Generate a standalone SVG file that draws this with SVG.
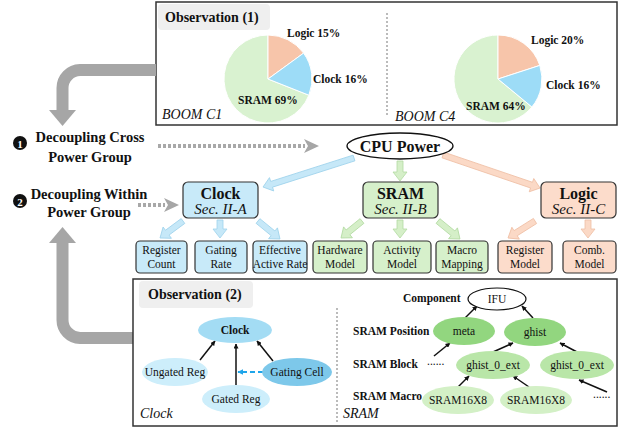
<svg xmlns="http://www.w3.org/2000/svg" width="624" height="429" viewBox="0 0 624 429">
<defs>
<style>
text{font-family:"Liberation Serif","Times New Roman",serif;fill:#111}
.b{font-weight:bold}
.i{font-style:italic}
.frame{fill:#fff;stroke:#333;stroke-width:1.5}
.lab{fill:#efefef}
.sep{stroke:#bbb;stroke-width:2;stroke-dasharray:2 2;fill:none}
.gray{stroke:#a6a6a6;stroke-width:12;fill:none}
.gfill{fill:#a6a6a6}
.dot{stroke:#a8a8a8;stroke-width:4;stroke-dasharray:3 2;fill:none}
.box{stroke:#333;stroke-width:1.2}
.blue{fill:#c8eaf9}
.green{fill:#d6f0cb}
.peach{fill:#fcdccb}
.ab{fill:#c6e8f8;stroke:#9fd3ec;stroke-width:0.8}
.ag{fill:#d5efc8;stroke:#b2daa2;stroke-width:0.8}
.ap{fill:#fbd9c6;stroke:#efbfa5;stroke-width:0.8}
.blk{stroke:#111;stroke-width:1.5;fill:none;marker-end:url(#ah)}
</style>
<marker id="ah" viewBox="0 0 10 10" refX="9" refY="5" markerWidth="5" markerHeight="5" orient="auto" markerUnits="userSpaceOnUse"><path d="M0,0 L10,5 L0,10 Z" fill="#111"/></marker>
<marker id="ahb" viewBox="0 0 10 10" refX="9" refY="5" markerWidth="6" markerHeight="6" orient="auto" markerUnits="userSpaceOnUse"><path d="M0,0 L10,5 L0,10 Z" fill="#1ea5ea"/></marker>
</defs>

<!-- Observation (1) -->
<g id="obs1">
<rect class="frame" x="156" y="2" width="461" height="123"/>
<rect class="lab" x="158" y="4" width="112" height="26" rx="4"/>
<text class="b" x="165" y="22" font-size="14">Observation (1)</text>
<line class="sep" x1="387" y1="13" x2="387" y2="116"/>
<g id="pie1" stroke="#fff" stroke-width="1">
<path d="M268,79 L308.9,95.2 A44,44 0 1 1 268,35 Z" fill="#d9f2d0"/>
<path d="M268,79 L268,35 A44,44 0 0 1 303.6,53.1 Z" fill="#f7c5aa"/>
<path d="M268,79 L303.6,53.1 A44,44 0 0 1 308.9,95.2 Z" fill="#9ddcf7"/>
</g>
<text class="b" x="287" y="37" font-size="11.5">Logic 15%</text>
<text class="b" x="313" y="83" font-size="11.5">Clock 16%</text>
<text class="b" x="238" y="104" font-size="11.5">SRAM 69%</text>
<text class="i" x="162" y="119" font-size="14">BOOM C1</text>
<g id="pie2" stroke="#fff" stroke-width="1">
<path d="M498,79 L531.9,107 A44,44 0 1 1 498,35 Z" fill="#d9f2d0"/>
<path d="M498,79 L498,35 A44,44 0 0 1 539.8,65.4 Z" fill="#f7c5aa"/>
<path d="M498,79 L539.8,65.4 A44,44 0 0 1 531.9,107 Z" fill="#9ddcf7"/>
</g>
<text class="b" x="531" y="44" font-size="11.5">Logic 20%</text>
<text class="b" x="546" y="89" font-size="11.5">Clock 16%</text>
<text class="b" x="466" y="110" font-size="11.5">SRAM 64%</text>
<text class="i" x="395" y="121" font-size="14">BOOM C4</text>
</g>

<!-- Gray connectors and dotted arrows -->
<g id="connectors">
<path class="gray" d="M156,70 H80 A18,18 0 0 0 62.5,88 V111"/>
<polygon class="gfill" points="49,110 76,110 62.5,126"/>
<path class="gray" d="M133,338 H80 A18,18 0 0 1 62.5,320 V242"/>
<polygon class="gfill" points="49,243 76,243 62.5,227"/>
<line class="dot" x1="158" y1="146" x2="305" y2="146"/>
<polygon class="gfill" points="304,139 319,146 304,153 308,146"/>
<line class="dot" x1="138" y1="205" x2="165" y2="205"/>
<polygon class="gfill" points="164,198 179,205 164,212 168,205"/>

<!-- block arrows -->
<path class="ab" d="M0,-3 H86.5 V-7 L95.5,0 L86.5,7 V3 H0 Z" transform="translate(354,158) rotate(162.3)"/>
<path class="ag" d="M0,-3 H11 V-7 L20,0 L11,7 V3 H0 Z" transform="translate(400,161) rotate(90)"/>
<path class="ap" d="M0,-3 H93.5 V-7 L102.5,0 L93.5,7 V3 H0 Z" transform="translate(443,155) rotate(18.8)"/>
<path class="ab" d="M0,-3 H19.6 V-7 L28.6,0 L19.6,7 V3 H0 Z" transform="translate(183,221) rotate(143.5)"/>
<path class="ab" d="M0,-3 H9 V-7 L18,0 L9,7 V3 H0 Z" transform="translate(220,220) rotate(90)"/>
<path class="ab" d="M0,-3 H19.4 V-7 L28.4,0 L19.4,7 V3 H0 Z" transform="translate(258,221) rotate(39.3)"/>
<path class="ag" d="M0,-3 H18 V-7 L27,0 L18,7 V3 H0 Z" transform="translate(362,221) rotate(141)"/>
<path class="ag" d="M0,-3 H9 V-7 L18,0 L9,7 V3 H0 Z" transform="translate(400,220) rotate(90)"/>
<path class="ag" d="M0,-3 H19.4 V-7 L28.4,0 L19.4,7 V3 H0 Z" transform="translate(438,221) rotate(39.3)"/>
<path class="ap" d="M0,-3 H22.9 V-7 L31.9,0 L22.9,7 V3 H0 Z" transform="translate(535,221) rotate(147.8)"/>
<path class="ap" d="M0,-3 H9 V-7 L18,0 L9,7 V3 H0 Z" transform="translate(588,220) rotate(90)"/>
</g>

<!-- step labels -->
<g id="step1">
<circle cx="20" cy="143" r="7" fill="#111"/>
<text x="20" y="147.5" font-size="11" class="b" text-anchor="middle" style="fill:#fff">1</text>
<text class="b" x="90" y="142" font-size="14.5" text-anchor="middle">Decoupling Cross</text>
<text class="b" x="90" y="162" font-size="14.5" text-anchor="middle">Power Group</text>
</g>
<g id="step2">
<circle cx="20" cy="201" r="7" fill="#111"/>
<text x="20" y="205.5" font-size="11" class="b" text-anchor="middle" style="fill:#fff">2</text>
<text class="b" x="89" y="199" font-size="14.5" text-anchor="middle">Decoupling Within</text>
<text class="b" x="89" y="217" font-size="14.5" text-anchor="middle">Power Group</text>
</g>

<g id="cpu">
<ellipse cx="400" cy="146" rx="53" ry="13" fill="#fff" stroke="#111" stroke-width="1.3"/>
<text class="b" x="400" y="152" font-size="16" text-anchor="middle">CPU Power</text>
</g>

<g id="clock">
<rect class="box blue" x="183" y="182" width="75" height="36" rx="5"/>
<text class="b" x="220.5" y="199" font-size="16" text-anchor="middle">Clock</text>
<text class="i" x="220.5" y="214" font-size="15" text-anchor="middle">Sec. II-A</text>
</g>
<g id="sram">
<rect class="box green" x="363" y="182" width="75" height="36" rx="5"/>
<text class="b" x="400.5" y="199" font-size="16" text-anchor="middle">SRAM</text>
<text class="i" x="400.5" y="214" font-size="15" text-anchor="middle">Sec. II-B</text>
</g>
<g id="logic">
<rect class="box peach" x="541" y="182" width="75" height="36" rx="5"/>
<text class="b" x="578.5" y="199" font-size="16" text-anchor="middle">Logic</text>
<text class="i" x="578.5" y="214" font-size="15" text-anchor="middle">Sec. II-C</text>
</g>

<g id="reg-count">
<rect class="box blue" x="136" y="241" width="51" height="32" rx="4"/>
<text x="161.5" y="254" font-size="11.5" text-anchor="middle">Register</text>
<text x="161.5" y="268" font-size="11.5" text-anchor="middle">Count</text>
</g>
<g id="gating-rate">
<rect class="box blue" x="195" y="241" width="52" height="32" rx="4"/>
<text x="221" y="254" font-size="11.5" text-anchor="middle">Gating</text>
<text x="221" y="268" font-size="11.5" text-anchor="middle">Rate</text>
</g>
<g id="eff-rate">
<rect class="box blue" x="253" y="241" width="54" height="32" rx="4"/>
<text x="280" y="254" font-size="11.5" text-anchor="middle">Effective</text>
<text x="280" y="268" font-size="11.5" text-anchor="middle">Active Rate</text>
</g>
<g id="hw-model">
<rect class="box green" x="313" y="241" width="54" height="32" rx="4"/>
<text x="340" y="254" font-size="11.5" text-anchor="middle">Hardware</text>
<text x="340" y="268" font-size="11.5" text-anchor="middle">Model</text>
</g>
<g id="act-model">
<rect class="box green" x="373" y="241" width="58" height="32" rx="4"/>
<text x="402" y="254" font-size="11.5" text-anchor="middle">Activity</text>
<text x="402" y="268" font-size="11.5" text-anchor="middle">Model</text>
</g>
<g id="macro-map">
<rect class="box green" x="436" y="241" width="52" height="32" rx="4"/>
<text x="462" y="254" font-size="11.5" text-anchor="middle">Macro</text>
<text x="462" y="268" font-size="11.5" text-anchor="middle">Mapping</text>
</g>
<g id="reg-model">
<rect class="box peach" x="498" y="241" width="54" height="32" rx="4"/>
<text x="525" y="254" font-size="11.5" text-anchor="middle">Register</text>
<text x="525" y="268" font-size="11.5" text-anchor="middle">Model</text>
</g>
<g id="comb-model">
<rect class="box peach" x="563" y="241" width="53" height="32" rx="4"/>
<text x="589.5" y="254" font-size="11.5" text-anchor="middle">Comb.</text>
<text x="589.5" y="268" font-size="11.5" text-anchor="middle">Model</text>
</g>

<!-- Observation (2) -->
<g id="obs2">
<rect class="frame" x="133" y="279" width="484" height="147"/>
<rect class="lab" x="139" y="281" width="114" height="27" rx="4"/>
<text class="b" x="148" y="299" font-size="14">Observation (2)</text>
<line class="sep" x1="337" y1="308" x2="337" y2="424"/>
<text class="i" x="140" y="418" font-size="14">Clock</text>
<text class="i" x="343" y="418" font-size="14">SRAM</text>

<g id="clk-edges">
<line class="blk" x1="200" y1="360" x2="215" y2="341"/>
<line class="blk" x1="236" y1="386" x2="236" y2="344"/>
<line class="blk" x1="273" y1="361" x2="257" y2="341"/>
<line x1="263" y1="372" x2="238" y2="372" stroke="#1ea5ea" stroke-width="2" stroke-dasharray="5 3" marker-end="url(#ahb)"/>
</g>
<g id="clk-node"><ellipse cx="235" cy="330" rx="37" ry="13" fill="#a3dcf4"/><text class="b" x="235" y="334" font-size="11.5" text-anchor="middle">Clock</text></g>
<g id="ungated"><ellipse cx="175" cy="372" rx="33" ry="14" fill="#cdeefb"/><text x="175" y="376" font-size="11.5" text-anchor="middle">Ungated Reg</text></g>
<g id="gating-cell"><ellipse cx="297" cy="372" rx="35" ry="14" fill="#7dc8ea"/><text x="297" y="376" font-size="11.5" text-anchor="middle">Gating Cell</text></g>
<g id="gated"><ellipse cx="236" cy="399" rx="34" ry="14" fill="#cdeefb"/><text x="236" y="403" font-size="11.5" text-anchor="middle">Gated Reg</text></g>

<text class="b" x="403" y="302" font-size="11.5">Component</text>
<text class="b" x="353" y="335" font-size="11.5">SRAM Position</text>
<text class="b" x="353" y="368" font-size="11.5">SRAM Block</text>
<text class="b" x="353" y="400" font-size="11.5">SRAM Macro</text>

<g id="sram-edges">
<line class="blk" x1="465" y1="318" x2="477" y2="306"/>
<line class="blk" x1="533" y1="318" x2="522" y2="306"/>
<line class="blk" x1="434" y1="356" x2="450" y2="343"/>
<line class="blk" x1="493" y1="352" x2="513" y2="343"/>
<line class="blk" x1="577" y1="352" x2="560" y2="343"/>
<line class="blk" x1="458" y1="387" x2="469" y2="376"/>
<line class="blk" x1="529" y1="387" x2="513" y2="376"/>
<line class="blk" x1="607" y1="392" x2="579" y2="380"/>
</g>
<g id="ifu"><ellipse cx="497" cy="299" rx="29" ry="11" fill="#fff" stroke="#111" stroke-width="1.2"/><text x="497" y="303" font-size="11.5" text-anchor="middle">IFU</text></g>
<g id="meta"><ellipse cx="464" cy="331" rx="31" ry="14" fill="#92d67f"/><text x="464" y="335" font-size="11.5" text-anchor="middle">meta</text></g>
<g id="ghist"><ellipse cx="535" cy="332" rx="31" ry="14" fill="#92d67f"/><text x="535" y="336" font-size="11.5" text-anchor="middle">ghist</text></g>
<g id="ghist0a"><ellipse cx="493" cy="365" rx="37" ry="14" fill="#b9e6a8"/><text x="493" y="369" font-size="11.5" text-anchor="middle">ghist_0_ext</text></g>
<g id="ghist0b"><ellipse cx="577" cy="365" rx="37" ry="14" fill="#b9e6a8"/><text x="577" y="369" font-size="11.5" text-anchor="middle">ghist_0_ext</text></g>
<g id="macro1"><ellipse cx="458" cy="400" rx="36" ry="14" fill="#d3f0c6"/><text x="458" y="404" font-size="11.5" text-anchor="middle">SRAM16X8</text></g>
<g id="macro2"><ellipse cx="536" cy="400" rx="36" ry="14" fill="#d3f0c6"/><text x="536" y="404" font-size="11.5" text-anchor="middle">SRAM16X8</text></g>
<text x="427" y="365" font-size="11.5">......</text>
<text x="593" y="398" font-size="11.5">......</text>
</g>
</svg>
